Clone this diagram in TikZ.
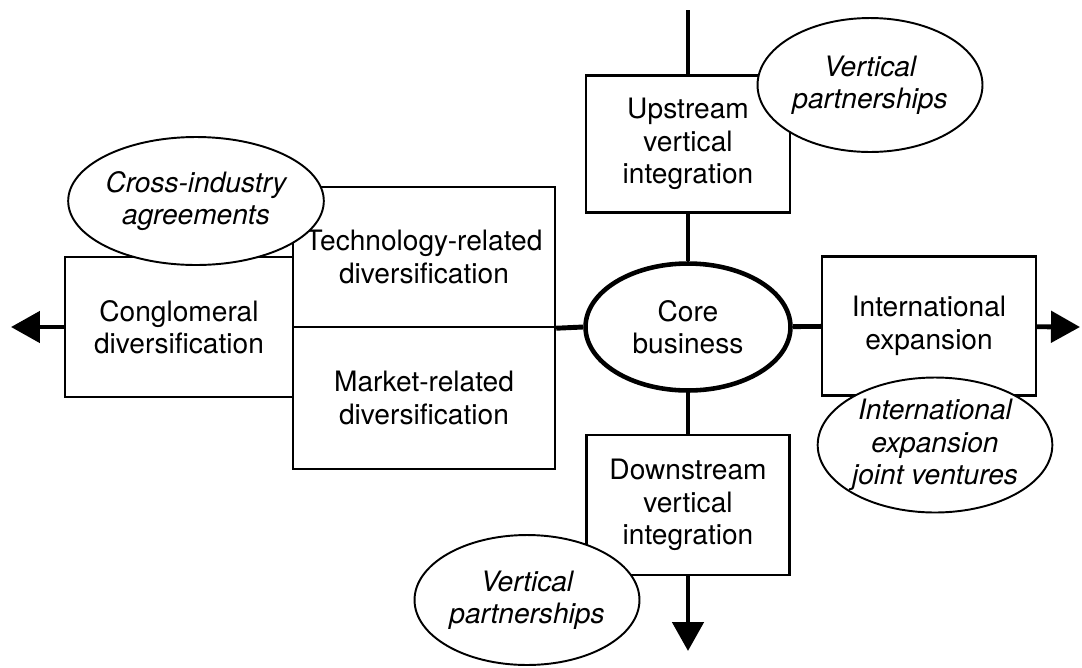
\documentclass[tikz,border=0pt]{standalone}
\usepackage{fontspec}
\setmainfont{TeX Gyre Heros}
\usepackage{tikz}
\usetikzlibrary{shapes.geometric, arrows.meta}

\begin{document}
\begin{tikzpicture}[
    x=0.02cm, y=-0.02cm,
    box/.style={draw, fill=white, line width=1.4pt, inner sep=0pt, align=center, font={\fontsize{16}{18.5}\selectfont}},
    bubble/.style={draw, ellipse, fill=white, line width=1.1pt, inner sep=0pt, minimum width=4.5cm, align=center, font={\fontsize{16}{18.5}\selectfont\itshape}},
    spine/.style={line width=2.8pt},
    arrow/.style={-{Triangle[length=0.58cm, width=0.62cm]}, line width=2.8pt}
]
    \useasboundingbox (0,0) rectangle (1082,667);
    \coordinate (top) at (688,10);
    \coordinate (bottom) at (688,651);
    \coordinate (left) at (11,327);
    \coordinate (right) at (1080,327);

    \node[box, ellipse, line width=2.6pt, minimum width=4.1cm, minimum height=2.54cm] at (688,327) (core) {Core\\business};
    \node[box, minimum width=4.08cm, minimum height=2.74cm] at (688,144) (up) {Upstream\\vertical\\integration};
    \node[box, minimum width=4.06cm, minimum height=2.8cm] at (688,505) (down) {Downstream\\vertical\\integration};
    \node[box, minimum width=4.28cm, minimum height=2.78cm] at (929,326) (intl) {International\\expansion};
    \node[box, minimum width=4.56cm, minimum height=2.8cm] at (179,327) (cong) {Conglomeral\\diversification};
    \node[box, minimum width=5.24cm, minimum height=2.8cm] at (424,257) (tech) {Technology-related\\diversification};
    \node[box, minimum width=5.24cm, minimum height=2.84cm] at (424,398) (market) {Market-related\\diversification};

    \draw[spine] (top) -- (up);
    \draw[spine] (up) -- (core);
    \draw[spine] (core) -- (down);
    \draw[arrow] (down) -- (bottom);
    \draw[spine] (core.west) -- (tech.south east);
    \draw[spine] (core) -- (intl);
    \draw[arrow] (intl) -- (right);
    \draw[arrow] (cong) -- (left);

    \node[bubble, minimum height=2.68cm] at (870,85) (vpup) {Vertical\\partnerships};
    \node[bubble, minimum height=2.56cm, minimum width=4.44cm] at (196,201) (cross) {Cross-industry\\agreements};
    \node[bubble, minimum height=2.7cm] at (935,445) (ijv) {International\\expansion\\joint ventures};
    \node[bubble, minimum height=2.6cm] at (527,600) (vpdown) {Vertical\\partnerships};
\end{tikzpicture}
\end{document}
